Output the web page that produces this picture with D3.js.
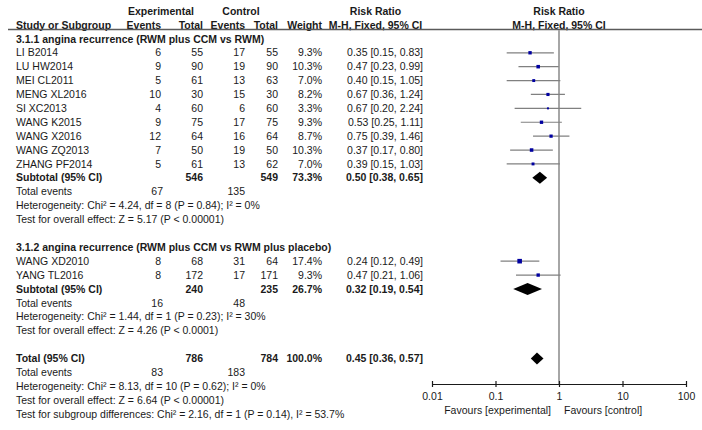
<!DOCTYPE html>
<html lang="en">
<head>
    <meta charset="UTF-8">
    <title>Forest plot - angina recurrence</title>
    <script src="https://cdnjs.cloudflare.com/ajax/libs/d3/7.8.5/d3.min.js"></script>
    <style>
        * { margin: 0; padding: 0; box-sizing: border-box; }
        body { background: #fff; }
        svg text {
            font-family: "Liberation Sans", Arial, sans-serif;
            font-size: 10.5px;
            fill: #1a1a1a;
        }
        .bold { font-weight: bold; }
    </style>
</head>
<body>
    <div id="chart"></div>

    <script>
        // study level data
        const studies = ["LI B2014", "LU HW2014", "MEI CL2011", "MENG XL2016", "SI XC2013", "WANG K2015",
                         "WANG X2016", "WANG ZQ2013", "ZHANG PF2014", "WANG XD2010", "YANG TL2016"];
        const studyGroup = [0, 0, 0, 0, 0, 0, 0, 0, 0, 1, 1];
        const expEvents = [6, 9, 5, 10, 4, 9, 12, 7, 5, 8, 8];
        const expTotal = [55, 90, 61, 30, 60, 75, 64, 50, 61, 68, 172];
        const ctlEvents = [17, 19, 13, 15, 6, 17, 16, 19, 13, 31, 17];
        const ctlTotal = [55, 90, 63, 30, 60, 75, 64, 50, 62, 64, 171];
        const weights = [9.3, 10.3, 7.0, 8.2, 3.3, 9.3, 8.7, 10.3, 7.0, 17.4, 9.3];
        const rr = [0.35, 0.47, 0.40, 0.67, 0.67, 0.53, 0.75, 0.37, 0.39, 0.24, 0.47];
        const rrLow = [0.15, 0.23, 0.15, 0.36, 0.20, 0.25, 0.39, 0.17, 0.15, 0.12, 0.21];
        const rrHigh = [0.83, 0.99, 1.05, 1.24, 2.24, 1.11, 1.46, 0.80, 1.03, 0.49, 1.06];

        // subgroup summaries
        const groupLabels = ["3.1.1 angina recurrence (RWM plus CCM vs RWM)",
                             "3.1.2 angina recurrence (RWM plus CCM vs RWM plus placebo)"];
        const subExpTotal = [546, 240];
        const subCtlTotal = [549, 235];
        const subWeight = [73.3, 26.7];
        const subRR = [0.50, 0.32];
        const subLow = [0.38, 0.19];
        const subHigh = [0.65, 0.54];
        const subExpEvents = [67, 16];
        const subCtlEvents = [135, 48];
        const subHetero = ["Heterogeneity: Chi² = 4.24, df = 8 (P = 0.84); I² = 0%",
                           "Heterogeneity: Chi² = 1.44, df = 1 (P = 0.23); I² = 30%"];
        const subEffect = ["Test for overall effect: Z = 5.17 (P < 0.00001)",
                           "Test for overall effect: Z = 4.26 (P < 0.0001)"];

        // overall
        const totalCounts = [786, 784];      // experimental, control
        const totalEvents = [83, 183];
        const totalWeight = 100.0;
        const totalRR = [0.45, 0.36, 0.57];  // estimate, low, high
        const totalNotes = ["Heterogeneity: Chi² = 8.13, df = 10 (P = 0.62); I² = 0%",
                            "Test for overall effect: Z = 6.64 (P < 0.00001)",
                            "Test for subgroup differences: Chi² = 2.16, df = 1 (P = 0.14), I² = 53.7%"];

        const axisTicks = [0.01, 0.1, 1, 10, 100];
        const tickLabels = ["0.01", "0.1", "1", "10", "100"];

        const width = 702, height = 430;
        const col = { name: 16, expEv: 161, expTot: 203, ctlEv: 245, ctlTot: 278, weight: 322, rrText: 423, rrHead: 375.5 };

        const svg = d3.select('#chart').append('svg')
            .attr('width', width)
            .attr('height', height);

        const x = d3.scaleLog().domain([0.01, 100]).range([432, 686]);
        const rowY = d3.scaleLinear().domain([1, 29]).range([25, 414]);
        const axisY = 384;

        // build the list of rows
        const rows = [];
        let line = 2;
        groupLabels.forEach((label, g) => {
            rows.push({ type: 'heading', line: line++, name: label });
            studies.forEach((s, i) => {
                if (studyGroup[i] !== g) return;
                rows.push({ type: 'study', line: line++, name: s, ee: expEvents[i], et: expTotal[i],
                    ce: ctlEvents[i], ct: ctlTotal[i], w: weights[i], rr: rr[i], lo: rrLow[i], hi: rrHigh[i] });
            });
            rows.push({ type: 'summary', line: line++, name: 'Subtotal (95% CI)', et: subExpTotal[g], ct: subCtlTotal[g],
                w: subWeight[g], rr: subRR[g], lo: subLow[g], hi: subHigh[g] });
            rows.push({ type: 'events', line: line++, name: 'Total events', ee: subExpEvents[g], ce: subCtlEvents[g] });
            rows.push({ type: 'note', line: line++, name: subHetero[g] });
            rows.push({ type: 'note', line: line++, name: subEffect[g] });
            line++;
        });
        rows.push({ type: 'summary', line: line++, name: 'Total (95% CI)', et: totalCounts[0], ct: totalCounts[1],
            w: totalWeight, rr: totalRR[0], lo: totalRR[1], hi: totalRR[2] });
        rows.push({ type: 'events', line: line++, name: 'Total events', ee: totalEvents[0], ce: totalEvents[1] });
        totalNotes.forEach(n => rows.push({ type: 'note', line: line++, name: n }));

        const txt = (xx, y, s, anchor, bold) => svg.append('text')
            .attr('x', xx).attr('y', y).attr('dy', '0.35em')
            .attr('text-anchor', anchor || 'start')
            .attr('class', bold ? 'bold' : null)
            .text(s);

        // header
        const h0 = 11, h1 = rowY(1);
        txt(161, h0, 'Experimental', 'middle', true);
        txt(241, h0, 'Control', 'middle', true);
        txt(col.rrHead, h0, 'Risk Ratio', 'middle', true);
        txt(x(1), h0, 'Risk Ratio', 'middle', true);
        txt(col.name, h1, 'Study or Subgroup', 'start', true);
        txt(col.expEv, h1, 'Events', 'end', true);
        txt(col.expTot, h1, 'Total', 'end', true);
        txt(col.ctlEv, h1, 'Events', 'end', true);
        txt(col.ctlTot, h1, 'Total', 'end', true);
        txt(col.weight, h1, 'Weight', 'end', true);
        txt(col.rrHead, h1, 'M-H, Fixed, 95% CI', 'middle', true);
        txt(x(1), h1, 'M-H, Fixed, 95% CI', 'middle', true);

        svg.append('line')
            .attr('x1', 8).attr('x2', width)
            .attr('y1', 29.5).attr('y2', 29.5)
            .attr('stroke', '#5a5a5a').attr('stroke-width', 1.5);

        // line of no effect
        svg.append('line')
            .attr('x1', x(1)).attr('x2', x(1))
            .attr('y1', 30).attr('y2', axisY)
            .attr('stroke', '#a6a6a6').attr('stroke-width', 2);

        const fmt = d3.format('.2f');
        const rrLabel = d => `${fmt(d.rr)} [${fmt(d.lo)}, ${fmt(d.hi)}]`;

        rows.forEach(d => {
            const y = rowY(d.line);
            const bold = d.type === 'heading' || d.type === 'summary';
            txt(col.name, y, d.name, 'start', bold);
            if (d.type === 'study' || d.type === 'summary') {
                if (d.ee !== undefined) txt(col.expEv, y, d.ee, 'end', bold);
                txt(col.expTot, y, d.et, 'end', bold);
                if (d.ce !== undefined) txt(col.ctlEv, y, d.ce, 'end', bold);
                txt(col.ctlTot, y, d.ct, 'end', bold);
                txt(col.weight, y, d.w.toFixed(1) + '%', 'end', bold);
                txt(col.rrText, y, rrLabel(d), 'end', bold);
            }
            if (d.type === 'events') {
                txt(col.expEv + 2, y, d.ee, 'end');
                txt(col.ctlEv, y, d.ce, 'end');
            }
            if (d.type === 'study') {
                svg.append('line')
                    .attr('x1', x(d.lo)).attr('x2', x(d.hi))
                    .attr('y1', y).attr('y2', y)
                    .attr('stroke', '#808080').attr('stroke-width', 1.2);
                const s = Math.max(2, 1.1 * Math.sqrt(d.w));
                svg.append('rect')
                    .attr('x', x(d.rr) - s / 2).attr('y', y - s / 2)
                    .attr('width', s).attr('height', s)
                    .attr('fill', '#0000a0');
            }
            if (d.type === 'summary') {
                const hh = 6;
                svg.append('path')
                    .attr('d', `M${x(d.lo)},${y}L${x(d.rr)},${y - hh}L${x(d.hi)},${y}L${x(d.rr)},${y + hh}Z`)
                    .attr('fill', '#000');
            }
        });

        // log axis
        const axis = svg.append('g')
            .attr('transform', `translate(0,${axisY})`)
            .call(d3.axisBottom(x)
                .tickValues(axisTicks)
                .tickFormat((v, i) => tickLabels[i])
                .tickSizeOuter(0)
                .tickSizeInner(3)
                .tickPadding(6));
        axis.select('.domain').attr('stroke', '#1a1a1a').attr('stroke-width', 1.2);
        axis.selectAll('.tick line').attr('y1', -3).attr('y2', 3).attr('stroke', '#1a1a1a').attr('stroke-width', 1.2);
        axis.selectAll('.tick text')
            .style('font-family', '"Liberation Sans", Arial, sans-serif')
            .style('font-size', '10.5px')
            .attr('fill', '#1a1a1a');

        txt(x(1) - 8, 410, 'Favours [experimental]', 'end');
        txt(x(1) + 5, 410, 'Favours [control]', 'start');
    </script>
</body>
</html>
